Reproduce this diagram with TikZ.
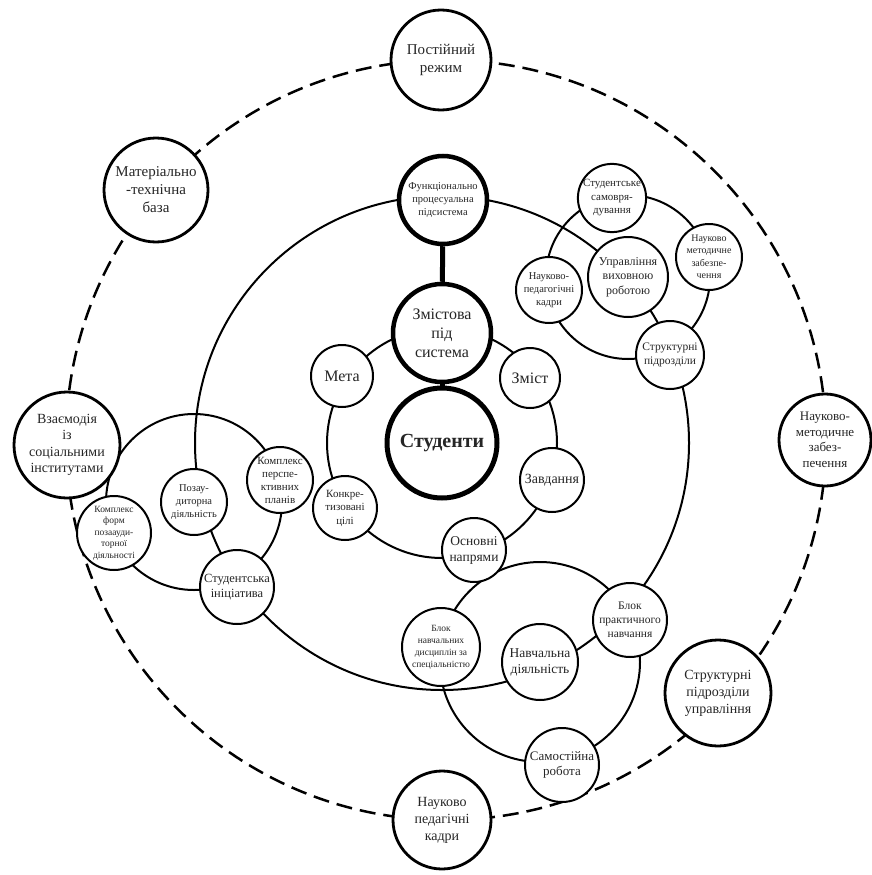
\documentclass[tikz,border=0pt]{standalone}
\usepackage{fontspec}
\setmainfont{Liberation Serif}
\usetikzlibrary{backgrounds}
\newcommand\fsz[2]{\fontsize{#1}{#2}\selectfont}
\begin{document}
\begin{tikzpicture}[x=1pt,y=-1pt,
  bub/.style={circle,draw=black,fill=white,inner sep=0pt,align=center,text=black!85},
  outerbub/.style={bub,line width=2.8pt},
  corebub/.style={bub,line width=4.5pt},
  satbub/.style={bub,line width=2pt},
  ringline/.style={line width=2pt},
  thickline/.style={line width=5pt},
  dashring/.style={line width=2.5pt,dash pattern=on 16pt off 8pt}]
\useasboundingbox (0,0) rectangle (872,875);
% outer nodes
\node[outerbub,minimum size=100pt,font=\fsz{15}{18}] (post) at (441,60) {Постійний\\режим};
\node[outerbub,minimum size=104pt,font=\fsz{15}{18}] (mat) at (156,190) {Матеріально\\-технічна\\база};
\node[outerbub,minimum size=106pt,font=\fsz{14}{16.5}] (vzaem) at (67,445) {Взаємодія\\із\\соціальними\\інститутами};
\node[outerbub,minimum size=92pt,font=\fsz{13}{15.5}] (nmo) at (825,440) {Науково-\\методичне\\забез-\\печення};
\node[outerbub,minimum size=106pt,font=\fsz{14}{17}] (spu) at (718,693) {Структурні\\підрозділи\\управління};
\node[outerbub,minimum size=98pt,font=\fsz{14}{17}] (npk) at (442,820) {Науково\\педагічні\\кадри};
% core
\node[corebub,minimum size=88pt,font=\fsz{10.5}{13}] (func) at (443,200) {Функціонально\\процесуальна\\підсистема};
\node[corebub,minimum size=98pt,font=\fsz{16}{19}] (zmist) at (442,333) {Змістова\\під\\система};
\node[corebub,line width=5pt,minimum size=110pt,font=\fsz{20}{24}\bfseries] (stud) at (442,443) {Студенти};
\node[satbub,minimum size=62pt,font=\fsz{16}{19}] (meta) at (342,376) {Мета};
\node[satbub,minimum size=60pt,font=\fsz{16}{19}] (zm) at (530,378) {Зміст};
\node[satbub,minimum size=64pt,font=\fsz{14}{17}] (zavd) at (552,480) {Завдання};
\node[satbub,minimum size=64pt,font=\fsz{13.5}{16}] (osn) at (474,550) {Основні\\напрями};
\node[satbub,minimum size=64pt,font=\fsz{11}{13.5}] (konk) at (345,508) {Конкре-\\тизовані\\цілі};
% top-right cluster
\node[satbub,minimum size=80pt,font=\fsz{12}{14.5}] (upr) at (628,277) {Управління\\виховною\\роботою};
\node[satbub,minimum size=68pt,font=\fsz{11}{13.5}] (ss) at (612,198) {Студентське\\самовря-\\дування};
\node[satbub,minimum size=66pt,font=\fsz{10}{12.5}] (nm) at (709,257) {Науково\\методичне\\забезпе-\\чення};
\node[satbub,minimum size=68pt,font=\fsz{11.5}{14}] (sp) at (670,355) {Структурні\\підрозділи};
\node[satbub,minimum size=66pt,font=\fsz{10.5}{13}] (np) at (549,290) {Науково-\\педагогічні\\кадри};
% bottom cluster
\node[satbub,minimum size=76pt,font=\fsz{13.5}{16}] (navch) at (540,662) {Навчальна\\діяльність};
\node[satbub,minimum size=78pt,font=\fsz{9.5}{12}] (bnd) at (441,647) {Блок\\навчальних\\дисциплін за\\спеціальністю};
\node[satbub,minimum size=74pt,font=\fsz{11.5}{14}] (bpn) at (630,620) {Блок\\практичного\\навчання};
\node[satbub,minimum size=74pt,font=\fsz{13}{15.5}] (sam) at (562,765) {Самостійна\\робота};
% left cluster
\node[satbub,minimum size=66pt,font=\fsz{10.5}{13}] (poza) at (194,502) {Позау-\\диторна\\діяльність};
\node[satbub,minimum size=66pt,font=\fsz{11}{13}] (kpp) at (280,480) {Комплекс\\перспе-\\ктивних\\планів};
\node[satbub,minimum size=74pt,font=\fsz{9.5}{11.5}] (kfp) at (114,533) {Комплекс\\форм\\позаауди-\\торної\\діяльності};
\node[satbub,minimum size=74pt,font=\fsz{12.5}{15}] (si) at (237,587) {Студентська\\ініціатива};
\coordinate (oc) at (446,440);
% thick connectors
\draw[thickline] (func) -- (zmist);
\draw[thickline] (zmist) -- (stud);
\begin{pgfonlayer}{background}
\fill[white] (0,0) rectangle (872,875);
\draw[dashring] (oc) circle[radius=380pt];
\draw[ringline] (stud.center) circle[radius=247pt];
\draw[ringline] (stud.center) circle[radius=115pt];
\draw[ringline] (upr.center) circle[radius=82pt];
\draw[ringline] (navch.center) circle[radius=100pt];
\draw[ringline] (poza.center) circle[radius=88pt];
\end{pgfonlayer}
\end{tikzpicture}
\end{document}
